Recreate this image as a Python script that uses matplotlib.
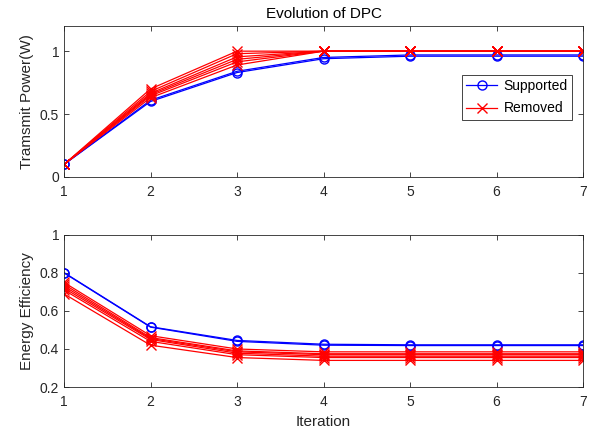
import matplotlib.pyplot as plt
import numpy as np

plt.rcParams["font.family"] = ["Liberation Sans", "DejaVu Sans"]

iterations = [1, 2, 3, 4, 5, 6, 7]

# transmit power (W)
power_supported = [
    [0.10, 0.600, 0.830, 0.940, 0.960, 0.960, 0.960],
    [0.10, 0.610, 0.840, 0.950, 0.970, 0.970, 0.970],
]
power_removed = [
    [0.10, 0.700, 1.000, 1.0, 1.0, 1.0, 1.0],
    [0.10, 0.680, 0.980, 1.0, 1.0, 1.0, 1.0],
    [0.10, 0.665, 0.955, 1.0, 1.0, 1.0, 1.0],
    [0.10, 0.655, 0.935, 1.0, 1.0, 1.0, 1.0],
    [0.10, 0.645, 0.915, 1.0, 1.0, 1.0, 1.0],
    [0.10, 0.630, 0.890, 1.0, 1.0, 1.0, 1.0],
]

# energy efficiency
ee_supported = [
    [0.800, 0.515, 0.440, 0.420, 0.418, 0.418, 0.418],
    [0.802, 0.517, 0.445, 0.425, 0.422, 0.422, 0.422],
]
ee_removed = [
    [0.750, 0.470, 0.400, 0.385, 0.385, 0.385, 0.385],
    [0.740, 0.460, 0.390, 0.375, 0.375, 0.375, 0.375],
    [0.730, 0.455, 0.385, 0.370, 0.370, 0.370, 0.370],
    [0.720, 0.450, 0.378, 0.362, 0.362, 0.362, 0.362],
    [0.710, 0.440, 0.370, 0.355, 0.355, 0.355, 0.355],
    [0.690, 0.420, 0.355, 0.340, 0.340, 0.340, 0.340],
]

fig = plt.figure(figsize=(5.96, 4.37), dpi=100)
ax1 = fig.add_axes([0.1074, 0.595, 0.871, 0.3455])
ax2 = fig.add_axes([0.1074, 0.1144, 0.871, 0.348])

edge = "#262626"


def style_axes(ax, ylim, yticks):
    ax.set_xlim(1, 7)
    ax.set_ylim(*ylim)
    ax.set_xticks(iterations)
    ax.set_yticks(yticks)
    ax.tick_params(direction="in", top=True, right=True, length=3.5,
                   labelsize=10, colors=edge, width=0.6)
    ax.tick_params(axis="x", pad=6)
    for s in ax.spines.values():
        s.set_color(edge)
        s.set_linewidth(0.6)


for i, ys in enumerate(power_supported):
    ax1.plot(iterations, ys, color="#0000ff", marker="o", mfc="none",
             ms=6.5, lw=0.9, label="Supported" if i == 0 else None)
for i, ys in enumerate(power_removed):
    ax1.plot(iterations, ys, color="#ff0000", marker="x",
             ms=7, lw=0.9, label="Removed" if i == 0 else None)

for ys in ee_supported:
    ax2.plot(iterations, ys, color="#0000ff", marker="o", mfc="none",
             ms=6.5, lw=0.9)
for ys in ee_removed:
    ax2.plot(iterations, ys, color="#ff0000", marker="x", ms=7, lw=0.9)

style_axes(ax1, (0, 1.2), [0, 0.5, 1])
ax1.set_yticklabels(["0", "0.5", "1"])
style_axes(ax2, (0.2, 1.0), [0.2, 0.4, 0.6, 0.8, 1.0])
ax2.set_yticklabels(["0.2", "0.4", "0.6", "0.8", "1"])

ax1.set_title("Evolution of DPC", fontsize=11, color="black", pad=6)
ax1.set_ylabel("Tramsmit Power(W)", fontsize=11, color=edge)
ax2.set_ylabel("Energy Efficiency", fontsize=11, color=edge)
ax2.set_xlabel("Iteration", fontsize=11, color=edge)

leg = ax1.legend(loc="upper right", bbox_to_anchor=(0.992, 0.722),
                 fontsize=10, fancybox=False, framealpha=1,
                 edgecolor=edge, handlelength=2.2, handletextpad=0.5,
                 borderpad=0.3, labelspacing=0.6)
leg.get_frame().set_linewidth(0.6)

fig.savefig("out.png", dpi=100)
